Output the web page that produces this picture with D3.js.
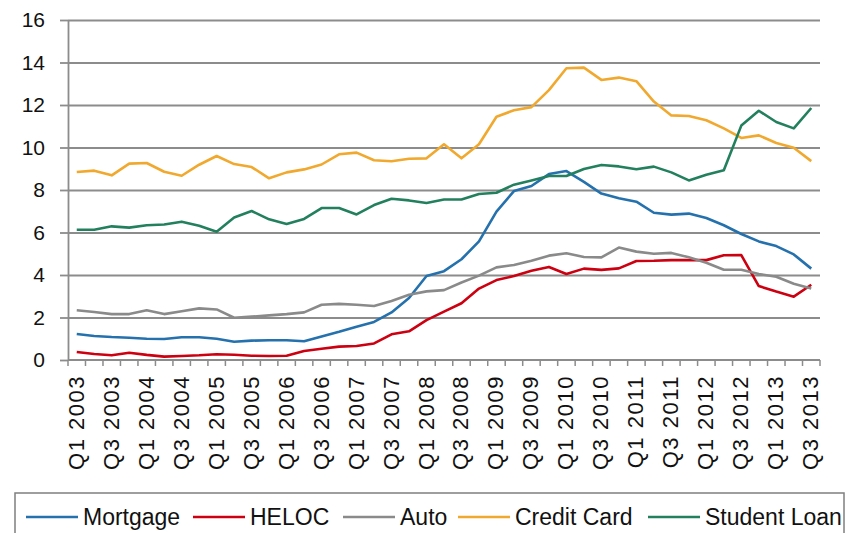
<!DOCTYPE html>
<html><head><meta charset="utf-8">
<script src="https://cdn.jsdelivr.net/npm/d3@7"></script>
<style>
html,body{margin:0;padding:0;background:#fff;}
svg{display:block;font-family:"Liberation Sans",Arial,Helvetica,sans-serif;}
</style></head>
<body><svg id="c" width="846" height="533"></svg>
<script>
const years = d3.range(2003, 2014);
const quarters = [];
years.forEach(y => [1,2,3,4].forEach(q => { if (!(y === 2013 && q === 4)) quarters.push("Q" + q + " " + y); }));

const mortgage = [1.22,1.13,1.08,1.05,1.0,0.99,1.07,1.07,1.0,0.86,0.91,0.93,0.93,0.88,1.11,1.33,1.57,1.79,2.24,2.92,3.95,4.18,4.74,5.58,6.98,7.95,8.19,8.75,8.89,8.38,7.83,7.61,7.45,6.93,6.84,6.89,6.68,6.34,5.93,5.58,5.36,4.97,4.3];
const heloc = [0.38,0.28,0.22,0.34,0.24,0.16,0.19,0.22,0.27,0.25,0.2,0.19,0.2,0.42,0.53,0.63,0.66,0.78,1.21,1.35,1.88,2.28,2.67,3.36,3.76,3.95,4.2,4.38,4.05,4.3,4.24,4.31,4.66,4.67,4.7,4.7,4.7,4.93,4.94,3.48,3.22,2.98,3.54];
const auto = [2.34,2.26,2.16,2.16,2.34,2.16,2.29,2.43,2.38,1.99,2.04,2.1,2.16,2.24,2.6,2.64,2.6,2.54,2.78,3.07,3.23,3.29,3.65,3.97,4.36,4.47,4.67,4.91,5.02,4.85,4.83,5.29,5.1,5.0,5.04,4.83,4.58,4.25,4.25,4.05,3.92,3.59,3.37];
const creditCard = [8.85,8.91,8.69,9.24,9.27,8.86,8.67,9.19,9.6,9.22,9.08,8.55,8.83,8.97,9.2,9.68,9.76,9.4,9.35,9.47,9.49,10.15,9.49,10.15,11.45,11.75,11.9,12.7,13.73,13.76,13.18,13.29,13.12,12.16,11.51,11.48,11.28,10.9,10.45,10.57,10.21,9.99,9.36];
const studentLoan = [6.13,6.13,6.29,6.23,6.34,6.38,6.51,6.32,6.04,6.71,7.01,6.62,6.4,6.64,7.15,7.15,6.85,7.29,7.59,7.51,7.39,7.55,7.55,7.81,7.87,8.25,8.45,8.66,8.66,8.99,9.18,9.11,8.98,9.1,8.83,8.45,8.72,8.93,11.03,11.73,11.2,10.9,11.86];
const yTicks = [0,2,4,6,8,10,12,14,16];

const seriesNames = ["Mortgage","HELOC","Auto","Credit Card","Student Loan"];
const seriesValues = [mortgage, heloc, auto, creditCard, studentLoan];
const seriesColors = ["#2471ad","#cc0010","#8a8a8a","#f0a92e","#23805e"];

const svg = d3.select("#c");
const pLeft = 68, pRight = 820, pTop = 20, pBottom = 360;
const x = d3.scaleBand().domain(quarters).range([pLeft, pRight]).padding(0);
const y = d3.scaleLinear().domain([0,16]).range([pBottom, pTop]);
const gridColor = "#8c8c8c";

// gridlines
svg.append("g").attr("transform", `translate(${pLeft},0)`)
  .call(d3.axisLeft(y).tickValues(yTicks.slice(1)).tickSize(-(pRight-pLeft)).tickFormat(""))
  .call(g => g.select(".domain").remove())
  .call(g => g.selectAll("line").attr("stroke", gridColor).attr("stroke-width", 1.8));

// y axis
svg.append("g").attr("transform", `translate(${pLeft},0)`)
  .call(d3.axisLeft(y).tickValues(yTicks).tickSize(8).tickPadding(15).tickSizeOuter(0))
  .call(g => g.select(".domain").attr("stroke", gridColor).attr("stroke-width", 1.8))
  .call(g => g.selectAll("line").attr("stroke", gridColor).attr("stroke-width", 1.8))
  .call(g => g.selectAll("text").attr("font-size", 21).attr("fill", "#111").attr("font-family","Liberation Sans, Arial, sans-serif"));

// x axis line and boundary ticks
const xg = svg.append("g");
xg.append("line").attr("x1", pLeft).attr("x2", pRight).attr("y1", pBottom).attr("y2", pBottom)
  .attr("stroke", gridColor).attr("stroke-width", 1.8);
const bounds = quarters.map(q => x(q)).concat([x(quarters[quarters.length-1]) + x.bandwidth()]);
xg.selectAll(".bt").data(bounds).join("line").attr("class","bt")
  .attr("x1", d => d).attr("x2", d => d).attr("y1", pBottom).attr("y2", pBottom + 6)
  .attr("stroke", gridColor).attr("stroke-width", 1.5);
xg.selectAll(".xl").data(quarters.filter((q,i) => i % 2 === 0)).join("text").attr("class","xl")
  .attr("transform", d => `translate(${x(d) + x.bandwidth()/2 + 7},${pBottom + 15}) rotate(-90)`)
  .attr("text-anchor", "end").attr("font-size", 22).attr("letter-spacing", 1.5).attr("fill", "#111")
  .text(d => d);

// lines
const line = d3.line().x((d,i) => x(quarters[i]) + x.bandwidth()/2).y(d => y(d));
seriesValues.forEach((vals, k) => {
  svg.append("path").datum(vals).attr("d", line).attr("fill", "none")
    .attr("stroke", seriesColors[k]).attr("stroke-width", 2.6).attr("stroke-linejoin", "round");
});

// legend
const lg = svg.append("g");
lg.append("rect").attr("x", 15).attr("y", 493).attr("width", 829).attr("height", 60)
  .attr("fill", "none").attr("stroke", "#7f7f7f").attr("stroke-width", 1.5);
const legendX = [26, 193, 343, 458, 648];
seriesNames.forEach((n, k) => {
  lg.append("line").attr("x1", legendX[k]).attr("x2", legendX[k] + 52).attr("y1", 517).attr("y2", 517)
    .attr("stroke", seriesColors[k]).attr("stroke-width", 2.6);
  lg.append("text").attr("x", legendX[k] + 57).attr("y", 525).attr("font-size", 23).attr("fill", "#111").text(n);
});
</script></body></html>
